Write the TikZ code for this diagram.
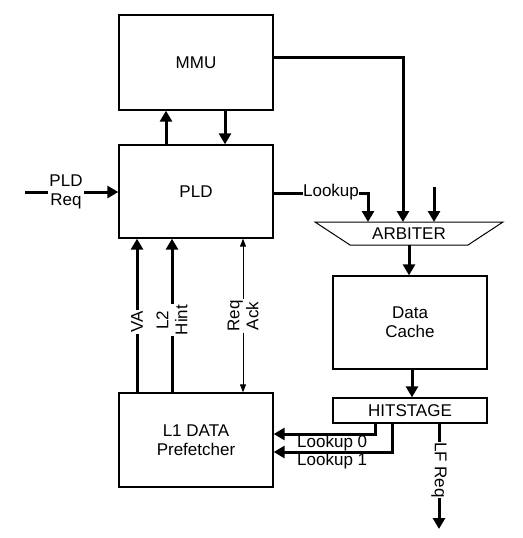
\documentclass[tikz,border=0pt]{standalone}
\usepackage{fontspec}
\setmainfont{Liberation Sans}
\usetikzlibrary{arrows.meta}
\begin{document}
\begin{tikzpicture}[x=1pt,y=-1pt,
  font=\fontsize{17}{19}\selectfont,
  blk/.style={draw,line width=1.3pt,minimum width=154pt,align=center,inner sep=0pt},
  bus/.style={line width=3pt,-{Triangle[length=11pt,width=12pt]}},
  thin/.style={line width=1pt,{Triangle[length=8pt,width=6pt]}-{Triangle[length=8pt,width=6pt]}},
  lbl/.style={fill=white,inner sep=1pt,align=center}]
\useasboundingbox (0,0) rectangle (522,538);
% blocks
\node[blk,minimum height=95pt] (mmu) at (196,62.5) {MMU};
\node[blk,minimum height=93pt] (pld) at (196,191.5) {PLD};
\node[blk,minimum height=94pt] (l1) at (196,440) {L1 DATA\\Prefetcher};
\node[blk,minimum height=93pt] (dc) at (410,322.5) {Data\\Cache};
\node[blk,minimum height=25pt] (hit) at (410,410.5) {HITSTAGE};
% arbiter trapezoid
\coordinate (a1) at (315,222);
\coordinate (a2) at (503,222);
\coordinate (a3) at (468,245);
\coordinate (a4) at (350,245);
\draw[line width=1pt] (a1) -- (a2) -- (a3) -- (a4) -- cycle;
\node (arb) at (409,233.5) {ARBITER};
% MMU <-> PLD
\draw[bus] (pld.north -| 166,0) -- (mmu.south -| 166,0);
\draw[bus] (mmu.south -| 225,0) -- (pld.north -| 225,0);
% MMU -> arbiter
\coordinate (mr) at (403,57);
\draw[bus] (mmu.east |- mr) -- (mr) -- (403,222);
% PLD Req
\coordinate (preq) at (25,192);
\draw[bus] (preq) -- (pld.west |- preq);
\node[lbl] (preqlbl) at (66,191.5) {PLD\\Req};
% Lookup
\coordinate (lk) at (368,193);
\draw[bus] (pld.east |- lk) -- (lk) -- (368,222);
\node[lbl,inner sep=0.5pt] (lklbl) at (331,192) {Lookup};
% third arbiter input
\coordinate (ain) at (434,187);
\draw[bus] (ain) -- (434,222);
% arbiter -> data cache
\draw[bus] (409,245) -- (dc.north -| 409,0);
% data cache -> hitstage
\draw[bus] (dc.south -| 412,0) -- (hit.north -| 412,0);
% VA, L2 hint
\draw[bus] (l1.north -| 137,0) -- (pld.south -| 137,0);
\node[lbl,rotate=90] (va) at (137,322) {VA};
\draw[bus] (l1.north -| 172,0) -- (pld.south -| 172,0);
\node[lbl,rotate=90] (l2) at (172,320) {L2\\Hint};
% Req/Ack
\draw[thin] (pld.south -| 243,0) -- (l1.north -| 243,0);
\node[lbl,rotate=90] (ra) at (243,316) {Req\\Ack};
% Lookup 0/1
\coordinate (h0) at (375,434);
\coordinate (h1) at (392,452);
\draw[bus] (hit.south -| h0) -- (h0) -- (l1.east |- h0);
\draw[bus] (hit.south -| h1) -- (h1) -- (l1.east |- h1);
\node[anchor=west,inner sep=0pt] (lk0) at (297,443) {Lookup 0};
\node[anchor=west,inner sep=0pt] (lk1) at (297,461) {Lookup 1};
% LF Req
\coordinate (lf) at (439,529);
\draw[bus] (hit.south -| lf) -- (lf);
\node[lbl,rotate=-90,inner sep=0.5pt] (lflbl) at (439,470) {LF Req};
\end{tikzpicture}
\end{document}
